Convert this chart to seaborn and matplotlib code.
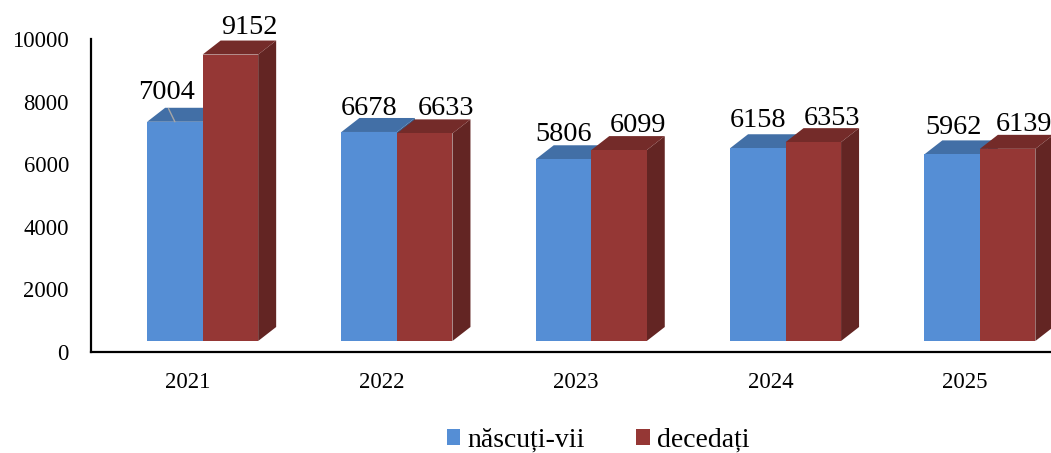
import matplotlib
matplotlib.use("Agg")
import matplotlib.pyplot as plt
from matplotlib.patches import Polygon
from matplotlib.transforms import ScaledTranslation
import pandas as pd
import seaborn as sns

years = ["2021", "2022", "2023", "2024", "2025"]
nascuti = [7004, 6678, 5806, 6158, 5962]
decedati = [9152, 6633, 6099, 6353, 6139]
series_names = ["născuți-vii", "decedați"]

# styling / layout only
front_colors = ["#558ED5", "#953735"]
top_colors = ["#426FA6", "#742B29"]
side_colors = ["#375C8A", "#632523"]
label_dx = [[-8, 0, 0, 0, 1], [19, 21, 19, 19, 16]]
label_dy = [[29, 23, 25, 28, 27], [27, 25, 25, 24, 24]]

W, H, DPI = 1051, 453, 100
AX_L, AX_R, AX_T, AX_B = 90.5, 1051, 39, 352
BAND = 194.3
OFF_X, OFF_Y = 15, 11
DEPTH_X, DEPTH_Y = 18, 14

sns.set_style("white")
plt.rcParams["font.family"] = ["Liberation Serif", "DejaVu Serif"]

df = pd.DataFrame({
    "year": years * 2,
    "value": nascuti + decedati,
    "series": [series_names[0]] * 5 + [series_names[1]] * 5,
})

fig = plt.figure(figsize=(W / DPI, H / DPI), dpi=DPI)
ax = fig.add_axes([AX_L / W, 1 - AX_B / H, (AX_R - AX_L) / W, (AX_B - AX_T) / H])
sns.barplot(data=df, x="year", y="value", hue="series", palette=front_colors,
            width=0.5714, dodge=True, gap=0, saturation=1, errorbar=None,
            linewidth=0, edgecolor="none", ax=ax, zorder=3)

ax.set_xlim(-0.5, (AX_R - AX_L) / BAND - 0.5)
ax.set_ylim(0, 10000)
ax.set_yticks([0, 2000, 4000, 6000, 8000, 10000])
ax.set_xlabel("")
ax.set_ylabel("")
ax.tick_params(axis="y", length=0, pad=15.5, labelsize=16.3, labelcolor="black")
ax.tick_params(axis="x", length=0, pad=14.5, labelsize=16.5, labelcolor="black")
for s in ("top", "right"):
    ax.spines[s].set_visible(False)
for s in ("left", "bottom"):
    ax.spines[s].set_visible(True)
    ax.spines[s].set_color("black")
    ax.spines[s].set_linewidth(1.6)
    ax.spines[s].set_zorder(10)

shift = ax.transData + ScaledTranslation(OFF_X / DPI, OFF_Y / DPI, fig.dpi_scale_trans)
ddx = DEPTH_X / BAND
ddy = DEPTH_Y / (AX_B - AX_T) * 10000

for k, cont in enumerate(ax.containers):
    z = 3 + k
    for i, bar in enumerate(cont.patches):
        x0, x1 = bar.get_x(), bar.get_x() + bar.get_width()
        h = bar.get_height()
        bar.set_transform(shift)
        bar.set_clip_on(False)
        bar.set_zorder(z + 0.2)
        ax.add_patch(Polygon([(x1, 0), (x1 + ddx, ddy), (x1 + ddx, h + ddy), (x1, h)],
                             closed=True, fc=side_colors[k], ec="none",
                             transform=shift, zorder=z, clip_on=False))
        ax.add_patch(Polygon([(x0, h), (x0 + ddx, h + ddy), (x1 + ddx, h + ddy), (x1, h)],
                             closed=True, fc=top_colors[k], ec="none",
                             transform=shift, zorder=z + 0.1, clip_on=False))
        arrow = None
        if k == 0 and i == 0:
            arrow = dict(arrowstyle="-", color="#A6A6A6", lw=1.0, shrinkA=0, shrinkB=0,
                         relpos=(0.5, 0))
        ax.annotate(str(int(h)), xy=((x0 + x1) / 2, h), xycoords=shift,
                    xytext=(label_dx[k][i] * 0.72, label_dy[k][i] * 0.72),
                    textcoords="offset points", ha="center", va="center",
                    fontsize=20.3, color="black", zorder=20, annotation_clip=False,
                    arrowprops=arrow)

handles, labels = ax.get_legend_handles_labels()
ax.legend(handles, labels, loc="center", bbox_to_anchor=(598 / W, 1 - 440 / H),
          bbox_transform=fig.transFigure, ncol=2, frameon=False, fontsize=20,
          labelcolor="black",
          handlelength=0.5, handleheight=0.5, handletextpad=0.25, columnspacing=1.84,
          borderpad=0, borderaxespad=0)

fig.savefig("out.png", dpi=DPI)
